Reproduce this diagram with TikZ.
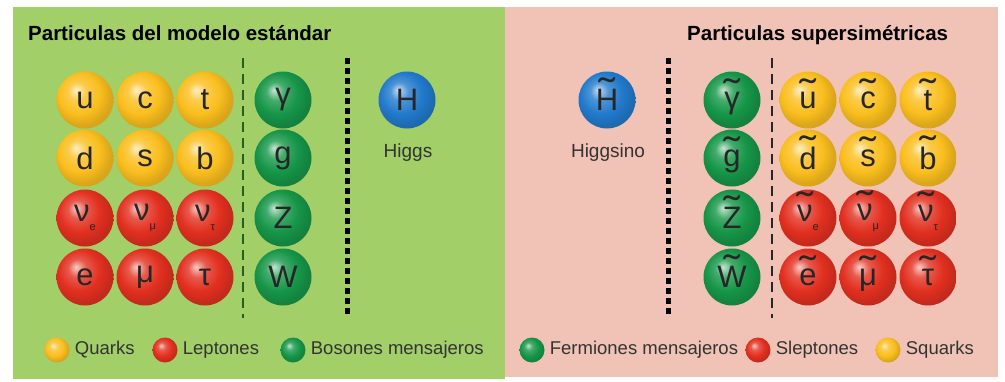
\documentclass[tikz,border=0pt]{standalone}
\usepackage{fontspec}
\setmainfont{Liberation Sans}
\usepackage{graphicx}
\usetikzlibrary{positioning}

\definecolor{smgreen}{RGB}{162,207,104}
\definecolor{susypink}{RGB}{241,195,182}
\definecolor{quarkyellow}{RGB}{250,190,30}
\definecolor{leptonred}{RGB}{226,48,32}
\definecolor{bosongreen}{RGB}{22,150,72}
\definecolor{higgsblue}{RGB}{34,122,204}
\definecolor{dashgreen}{RGB}{40,95,30}

% brighter ball shading, no black rim
\makeatletter
\pgfdeclareradialshading[tikz@ball]{sphere}{\pgfqpoint{-8bp}{9bp}}{%
  color(0bp)=(tikz@ball!25!white); color(8bp)=(tikz@ball!80!white);
  color(18bp)=(tikz@ball); color(26bp)=(tikz@ball!88!black);
  color(50bp)=(tikz@ball!70!black)}
\makeatother

% tilde over a letter, superpartner
\newsavebox\tilbox
\newlength\tilraise
\newcommand{\stil}[1]{\sbox\tilbox{#1}%
  \setlength\tilraise{\dimexpr\ht\tilbox-0.5em\relax}%
  \ifdim\tilraise<0.1em\setlength\tilraise{0.1em}\fi
  \ooalign{\usebox\tilbox\cr\hidewidth\raisebox{\tilraise}{\scalebox{1.6}[1.2]{\char"02DC}}\hidewidth\cr}}
% neutrino with its flavour
\newcommand{\nusub}[2]{#1\raisebox{-0.3em}{\fontsize{11}{11}\selectfont#2}}

\tikzset{
  ball/.style={circle,inner sep=0pt,minimum size=57pt,text=black!85,
    font=\fontsize{31}{31}\selectfont},
  quark/.style={ball,ball color=quarkyellow,shading=sphere},
  lepton/.style={ball,ball color=leptonred,shading=sphere},
  boson/.style={ball,ball color=bosongreen,shading=sphere},
  higgs/.style={ball,ball color=higgsblue,shading=sphere},
  keyball/.style={circle,inner sep=0pt,minimum size=25pt,ball color=#1,shading=sphere},
  keytext/.style={right=5pt of #1,inner sep=0pt,text=black!80,font=\fontsize{18.5}{18.5}\selectfont},
  paneltitle/.style={anchor=west,inner sep=0pt,font=\bfseries\fontsize{20.5}{20.5}\selectfont},
  thindash/.style={line width=1.8pt,dash pattern=on 10pt off 6pt},
  thickdash/.style={line width=5pt,dash pattern=on 6pt off 4pt},
}

\begin{document}
\begin{tikzpicture}[x=1pt,y=-1pt]
  \useasboundingbox (0,0) rectangle (1005,381);
  % panels
  \fill[smgreen] (13,7) rectangle (505,379);
  \fill[susypink] (505,7) rectangle (998,377);
  \node[paneltitle] (smtitle) at (28,33) {Particulas del modelo estándar};
  \node[paneltitle] (susytitle) at (687,35) {Particulas supersimétricas};

  % standard model
  \foreach \row/\y/\kind/\a/\b/\c in {1/100/quark/u/c/t, 2/158/quark/d/s/b,
      3/218/lepton/{\nusub{ν}{e}}/{\nusub{ν}{μ}}/{\nusub{ν}{τ}}, 4/277/lepton/e/μ/τ}{
    \node[\kind] (sm-\row-1) at (85,\y) {\a};
    \node[\kind] (sm-\row-2) at (145,\y) {\b};
    \node[\kind] (sm-\row-3) at (205,\y) {\c};
  }
  \foreach \row/\y/\l in {1/100/γ, 2/158/g, 3/218/Z, 4/277/W}
    \node[boson] (gb-\row) at (283,\y) {\l};
  \node[higgs] (higgs) at (407,100) {H};
  \node[text=black!80,font=\fontsize{19}{19}\selectfont] (higgslbl) at (408,153) {Higgs};
  \draw[thindash,dashgreen] (243,58) -- (243,318);
  \draw[thickdash] (347,58) -- (347,316);

  % superpartners
  \node[higgs] (higgsino) at (607,100) {\stil{H}};
  \node[text=black!80,font=\fontsize{19}{19}\selectfont] (higgsinolbl) at (608,153) {Higgsino};
  \draw[thickdash] (668,58) -- (668,314);
  \draw[thindash,line width=1.2pt,black!85] (772,58) -- (772,318);
  \foreach \row/\y/\l in {1/100/γ, 2/158/g, 3/218/Z, 4/277/W}
    \node[boson] (gf-\row) at (732,\y) {\stil{\l}};
  \foreach \row/\y/\kind/\a/\b/\c in {1/100/quark/{\stil{u}}/{\stil{c}}/{\stil{t}},
      2/158/quark/{\stil{d}}/{\stil{s}}/{\stil{b}},
      3/218/lepton/{\nusub{\stil{ν}}{e}}/{\nusub{\stil{ν}}{μ}}/{\nusub{\stil{ν}}{τ}},
      4/277/lepton/{\stil{e}}/{\stil{μ}}/{\stil{τ}}}{
    \node[\kind] (sp-\row-1) at (808,\y) {\a};
    \node[\kind] (sp-\row-2) at (868,\y) {\b};
    \node[\kind] (sp-\row-3) at (928,\y) {\c};
  }

  % legends
  \node[keyball=quarkyellow] (kq) at (57,350) {};
  \node[keytext=kq] {Quarks};
  \node[keyball=leptonred] (kl) at (165,350) {};
  \node[keytext=kl] {Leptones};
  \node[keyball=bosongreen] (kb) at (293,350) {};
  \node[keytext=kb] {Bosones mensajeros};
  \node[keyball=bosongreen] (kf) at (532,350) {};
  \node[keytext=kf] {Fermiones mensajeros};
  \node[keyball=leptonred] (ks) at (758,350) {};
  \node[keytext=ks] {Sleptones};
  \node[keyball=quarkyellow] (ksq) at (888,350) {};
  \node[keytext=ksq] {Squarks};
\end{tikzpicture}
\end{document}
